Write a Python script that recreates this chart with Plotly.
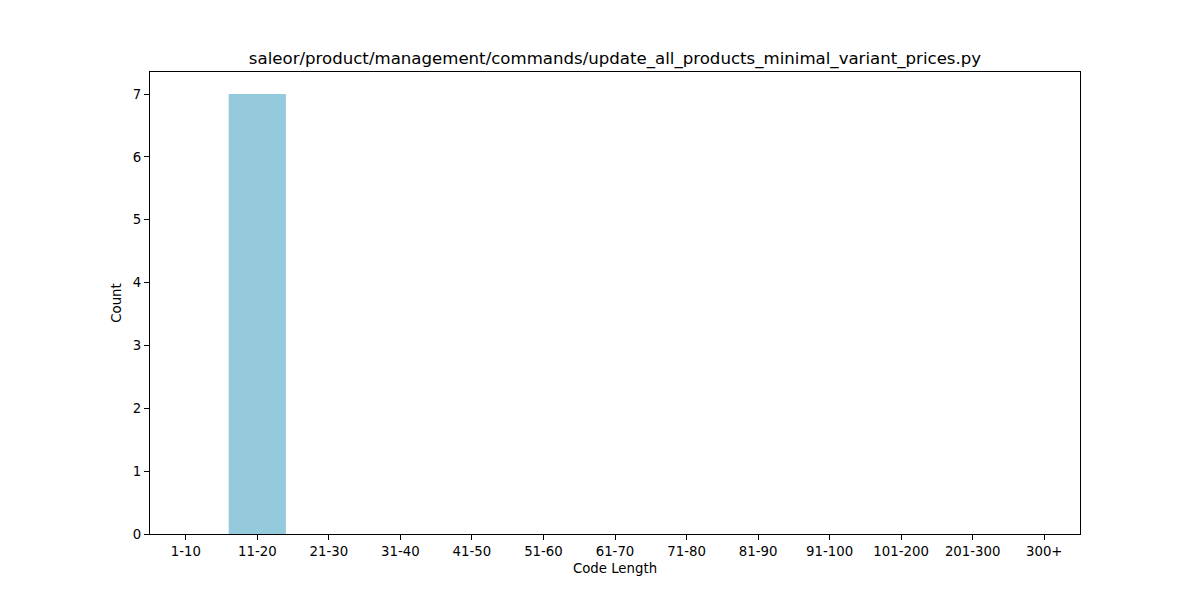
import plotly.graph_objects as go

# 代码长度分布
categories = ["1-10", "11-20", "21-30", "31-40", "41-50", "51-60", "61-70",
              "71-80", "81-90", "91-100", "101-200", "201-300", "300+"]
counts = [0, 7, 0, 0, 0, 0, 0, 0, 0, 0, 0, 0, 0]
title = "saleor/product/management/commands/update_all_products_minimal_variant_prices.py"

fig = go.Figure(go.Bar(
    x=categories,
    y=counts,
    marker=dict(color="#95c9dc", line=dict(width=0)),
    width=0.8,
))

axis_style = dict(
    showline=True, linecolor="black", linewidth=1, mirror=True,
    ticks="outside", ticklen=5, tickcolor="black", tickwidth=1,
    showgrid=False, zeroline=False,
    tickfont=dict(size=13.3, color="black"),
    title_font=dict(size=13.3, color="black"),
)

# 页面 body 有 8px 外边距，这里把边距往回收
fig.update_layout(
    width=1200, height=600,
    margin=dict(l=142, r=128, t=64, b=74),
    paper_bgcolor="white", plot_bgcolor="white",
    font=dict(family="DejaVu Sans", color="black"),
    title=dict(text=title, x=607 / 1200, xanchor="center",
               y=1 - 50 / 600, yanchor="middle",
               font=dict(size=16.6, color="black")),
    showlegend=False,
    bargap=0.2,
)
fig.update_xaxes(axis_style, title_text="Code Length", title_standoff=5,
                 range=[-0.5, 12.5])
fig.update_yaxes(axis_style, title_text="Count", title_standoff=8,
                 range=[0, 7.35], tickvals=list(range(8)))

fig.write_html("out.html")
